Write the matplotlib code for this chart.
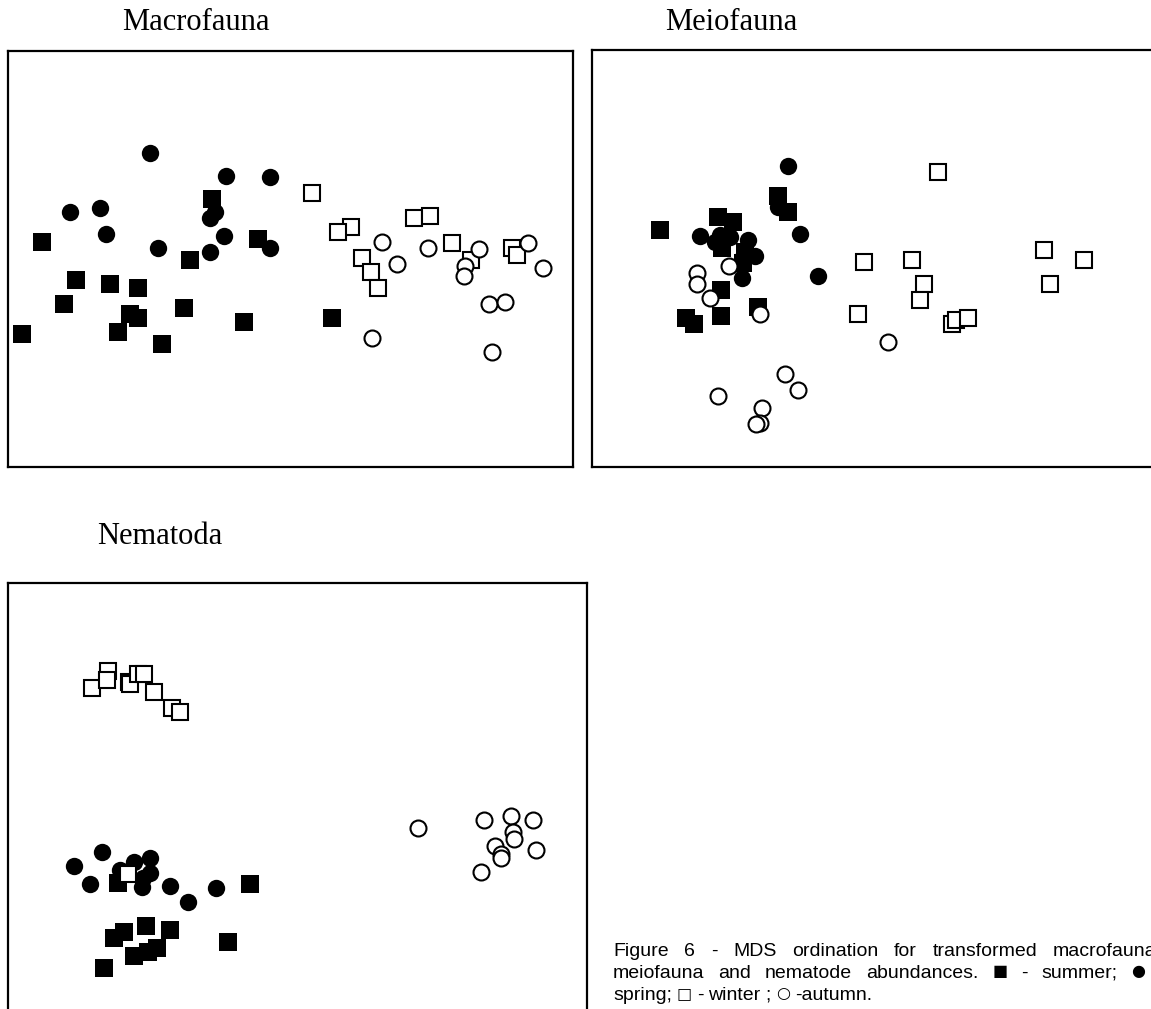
import matplotlib
matplotlib.use('Agg')
import matplotlib.pyplot as plt

W, H = 1151, 1009

# MDS scores (plot units) for each group and season
macro_summer_x = [212, 42, 258, 190, 76, 110, 138, 64, 184, 130, 138, 244, 22, 118, 162, 332]
macro_summer_y = [199, 242, 239, 260, 280, 284, 288, 304, 308, 314, 318, 322, 334, 332, 344, 318]
macro_spring_x = [150, 226, 270, 70, 100, 106, 158, 215, 210, 224, 210, 270]
macro_spring_y = [153, 176, 177, 212, 208, 234, 248, 212, 218, 236, 252, 248]
macro_winter_x = [312, 351, 338, 414, 430, 452, 362, 471, 371, 378, 512, 517]
macro_winter_y = [193, 227, 232, 218, 216, 243, 258, 260, 272, 288, 248, 255]
macro_autumn_x = [382, 397, 428, 479, 465, 464, 528, 543, 489, 505, 372, 492]
macro_autumn_y = [242, 264, 248, 249, 266, 276, 243, 268, 304, 302, 338, 352]

meio_summer_x = [660, 718, 733, 722, 745, 778, 788, 721, 758, 686, 694, 721, 743]
meio_summer_y = [230, 217, 222, 248, 252, 196, 212, 290, 307, 318, 324, 316, 263]
meio_spring_x = [788, 700, 720, 730, 715, 748, 755, 743, 742, 800, 818, 778]
meio_spring_y = [166, 236, 235, 237, 242, 240, 256, 257, 278, 234, 276, 207]
meio_winter_x = [938, 864, 912, 924, 920, 858, 952, 956, 968, 1044, 1084, 1050]
meio_winter_y = [172, 262, 260, 284, 300, 314, 324, 320, 318, 250, 260, 284]
meio_autumn_x = [697, 697, 729, 710, 760, 785, 798, 718, 762, 760, 756, 888]
meio_autumn_y = [273, 284, 266, 298, 314, 374, 390, 396, 408, 423, 424, 342]

nema_summer_x = [118, 250, 146, 170, 124, 114, 228, 157, 148, 134, 104]
nema_summer_y = [883, 884, 926, 930, 932, 938, 942, 948, 952, 956, 968]
nema_spring_x = [74, 102, 90, 134, 150, 150, 143, 142, 170, 188, 216, 120]
nema_spring_y = [866, 852, 884, 862, 858, 873, 878, 887, 886, 902, 888, 870]
nema_winter_x = [108, 92, 107, 129, 130, 138, 144, 154, 172, 180, 128]
nema_winter_y = [671, 688, 680, 682, 684, 674, 674, 692, 708, 712, 874]
nema_autumn_x = [418, 484, 511, 533, 513, 514, 495, 501, 501, 536, 481]
nema_autumn_y = [828, 820, 816, 820, 832, 839, 846, 854, 858, 850, 872]

caption_lines = [
    'Figure 6 - MDS ordination for transformed macrofauna,',
    'meiofauna and nematode abundances. \u25a0 - summer; \u25cf -',
    'spring; \u25a1 - winter ; \u25cb -autumn.',
]
symbols = {'\u25a0', '\u25cf', '\u25a1', '\u25cb'}

fig = plt.figure(figsize=(W / 100, H / 100), dpi=100)


def panel(left, top, right, bottom):
    ax = fig.add_axes([left / W, 1 - bottom / H, (right - left) / W, (bottom - top) / H])
    ax.set_xlim(left, right)
    ax.set_ylim(bottom, top)
    ax.set_xticks([])
    ax.set_yticks([])
    for s in ax.spines.values():
        s.set_linewidth(1.6)
        s.set_color('black')
    return ax


def seasons(ax, summer, spring, winter, autumn):
    ax.plot(*summer, 's', color='black', ms=12.5, mew=0, ls='none')
    ax.plot(*spring, 'o', color='black', ms=12.5, mew=0, ls='none')
    ax.plot(*winter, 's', mfc='white', mec='black', ms=11, mew=1.5, ls='none')
    ax.plot(*autumn, 'o', mfc='white', mec='black', ms=11.5, mew=1.5, ls='none')


ax1 = panel(8, 51, 573, 467)
seasons(ax1, (macro_summer_x, macro_summer_y), (macro_spring_x, macro_spring_y),
        (macro_winter_x, macro_winter_y), (macro_autumn_x, macro_autumn_y))

ax2 = panel(592, 50, 1165, 467)
seasons(ax2, (meio_summer_x, meio_summer_y), (meio_spring_x, meio_spring_y),
        (meio_winter_x, meio_winter_y), (meio_autumn_x, meio_autumn_y))

ax3 = panel(8, 583, 587, 1025)
seasons(ax3, (nema_summer_x, nema_summer_y), (nema_spring_x, nema_spring_y),
        (nema_winter_x, nema_winter_y), (nema_autumn_x, nema_autumn_y))

title_font = dict(family='Liberation Serif', fontsize=22, ha='center', va='center')
fig.text(196 / W, 1 - 23 / H, 'Macrofauna', **title_font)
fig.text(731 / W, 1 - 23 / H, 'Meiofauna', **title_font)
fig.text(160 / W, 1 - 536 / H, 'Nematoda', **title_font)

# caption: first two lines justified, last line flush left
renderer = fig.canvas.get_renderer()


def caption_line(line, baseline, x0, x1=None, gap=5.0):
    words = line.split(' ')
    items = []
    for w in words:
        if w in symbols:
            # symbol glyphs sit a little higher to line up with the capitals
            t = fig.text(0, 1 - (baseline - 1.5) / H, w, family='DejaVu Sans',
                         fontsize=11.5, va='baseline')
        else:
            t = fig.text(0, 1 - baseline / H, w, family='Liberation Sans',
                         fontsize=14, va='baseline')
        items.append(t)
    widths = [t.get_window_extent(renderer).width for t in items]
    if x1 is not None:
        gap = (x1 - x0 - sum(widths)) / (len(words) - 1)
    x = x0
    for t, w in zip(items, widths):
        t.set_x(x / W)
        x += w + gap


caption_line(caption_lines[0], 956, 613, 1162)
caption_line(caption_lines[1], 978, 613, 1166)
caption_line(caption_lines[2], 1000, 613, gap=5.0)

fig.savefig('out.png', dpi=100)
